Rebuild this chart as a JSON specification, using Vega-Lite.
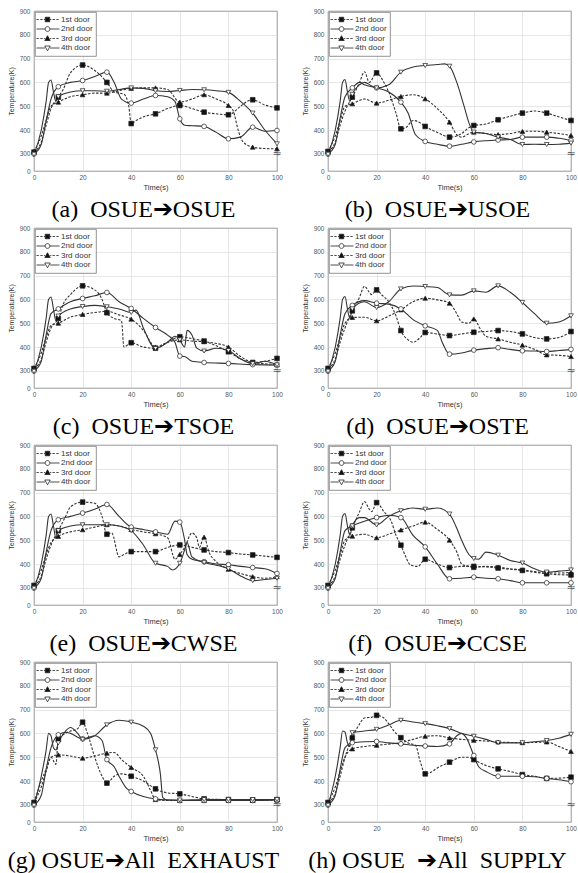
{
"$schema":"https://vega.github.io/schema/vega-lite/v6.json",
"background":"white",
"padding":{"left":6,"top":7,"right":0,"bottom":0},
"data":{"values":[
{"p":"a","d":"1st door","t":0,"T":307},{"p":"a","d":"1st door","t":3,"T":350},{"p":"a","d":"1st door","t":5,"T":420},{"p":"a","d":"1st door","t":7,"T":490},{"p":"a","d":"1st door","t":10,"T":538},{"p":"a","d":"1st door","t":12,"T":570},{"p":"a","d":"1st door","t":15,"T":640},{"p":"a","d":"1st door","t":20,"T":673},{"p":"a","d":"1st door","t":25,"T":650},{"p":"a","d":"1st door","t":30,"T":600},{"p":"a","d":"1st door","t":33,"T":560},{"p":"a","d":"1st door","t":37,"T":550},{"p":"a","d":"1st door","t":39,"T":500},{"p":"a","d":"1st door","t":40,"T":427},{"p":"a","d":"1st door","t":42,"T":440},{"p":"a","d":"1st door","t":45,"T":455},{"p":"a","d":"1st door","t":50,"T":468},{"p":"a","d":"1st door","t":55,"T":490},{"p":"a","d":"1st door","t":60,"T":503},{"p":"a","d":"1st door","t":65,"T":490},{"p":"a","d":"1st door","t":70,"T":475},{"p":"a","d":"1st door","t":75,"T":468},{"p":"a","d":"1st door","t":80,"T":464},{"p":"a","d":"1st door","t":85,"T":500},{"p":"a","d":"1st door","t":88,"T":522},{"p":"a","d":"1st door","t":90,"T":527},{"p":"a","d":"1st door","t":95,"T":505},{"p":"a","d":"1st door","t":100,"T":493},
{"p":"a","d":"2nd door","t":0,"T":296},{"p":"a","d":"2nd door","t":3,"T":340},{"p":"a","d":"2nd door","t":5,"T":440},{"p":"a","d":"2nd door","t":7,"T":530},{"p":"a","d":"2nd door","t":10,"T":582},{"p":"a","d":"2nd door","t":15,"T":600},{"p":"a","d":"2nd door","t":20,"T":608},{"p":"a","d":"2nd door","t":25,"T":625},{"p":"a","d":"2nd door","t":30,"T":643},{"p":"a","d":"2nd door","t":33,"T":600},{"p":"a","d":"2nd door","t":36,"T":530},{"p":"a","d":"2nd door","t":40,"T":513},{"p":"a","d":"2nd door","t":45,"T":530},{"p":"a","d":"2nd door","t":50,"T":545},{"p":"a","d":"2nd door","t":55,"T":540},{"p":"a","d":"2nd door","t":58,"T":520},{"p":"a","d":"2nd door","t":60,"T":447},{"p":"a","d":"2nd door","t":62,"T":420},{"p":"a","d":"2nd door","t":65,"T":418},{"p":"a","d":"2nd door","t":70,"T":415},{"p":"a","d":"2nd door","t":75,"T":390},{"p":"a","d":"2nd door","t":80,"T":363},{"p":"a","d":"2nd door","t":85,"T":370},{"p":"a","d":"2nd door","t":90,"T":412},{"p":"a","d":"2nd door","t":95,"T":395},{"p":"a","d":"2nd door","t":100,"T":398},
{"p":"a","d":"3rd door","t":0,"T":310},{"p":"a","d":"3rd door","t":3,"T":375},{"p":"a","d":"3rd door","t":5,"T":440},{"p":"a","d":"3rd door","t":7,"T":500},{"p":"a","d":"3rd door","t":10,"T":517},{"p":"a","d":"3rd door","t":15,"T":540},{"p":"a","d":"3rd door","t":20,"T":548},{"p":"a","d":"3rd door","t":25,"T":555},{"p":"a","d":"3rd door","t":30,"T":555},{"p":"a","d":"3rd door","t":35,"T":565},{"p":"a","d":"3rd door","t":40,"T":575},{"p":"a","d":"3rd door","t":45,"T":577},{"p":"a","d":"3rd door","t":50,"T":577},{"p":"a","d":"3rd door","t":55,"T":570},{"p":"a","d":"3rd door","t":60,"T":517},{"p":"a","d":"3rd door","t":65,"T":530},{"p":"a","d":"3rd door","t":70,"T":548},{"p":"a","d":"3rd door","t":75,"T":530},{"p":"a","d":"3rd door","t":80,"T":503},{"p":"a","d":"3rd door","t":82,"T":480},{"p":"a","d":"3rd door","t":84,"T":400},{"p":"a","d":"3rd door","t":86,"T":350},{"p":"a","d":"3rd door","t":90,"T":328},{"p":"a","d":"3rd door","t":95,"T":322},{"p":"a","d":"3rd door","t":100,"T":321},
{"p":"a","d":"4th door","t":0,"T":290},{"p":"a","d":"4th door","t":3,"T":400},{"p":"a","d":"4th door","t":5,"T":520},{"p":"a","d":"4th door","t":6,"T":600},{"p":"a","d":"4th door","t":7,"T":610},{"p":"a","d":"4th door","t":8,"T":560},{"p":"a","d":"4th door","t":9,"T":520},{"p":"a","d":"4th door","t":10,"T":540},{"p":"a","d":"4th door","t":15,"T":560},{"p":"a","d":"4th door","t":20,"T":565},{"p":"a","d":"4th door","t":25,"T":565},{"p":"a","d":"4th door","t":30,"T":563},{"p":"a","d":"4th door","t":35,"T":570},{"p":"a","d":"4th door","t":40,"T":577},{"p":"a","d":"4th door","t":45,"T":575},{"p":"a","d":"4th door","t":50,"T":565},{"p":"a","d":"4th door","t":55,"T":562},{"p":"a","d":"4th door","t":60,"T":566},{"p":"a","d":"4th door","t":65,"T":570},{"p":"a","d":"4th door","t":70,"T":569},{"p":"a","d":"4th door","t":75,"T":565},{"p":"a","d":"4th door","t":80,"T":558},{"p":"a","d":"4th door","t":85,"T":520},{"p":"a","d":"4th door","t":90,"T":471},{"p":"a","d":"4th door","t":95,"T":400},{"p":"a","d":"4th door","t":100,"T":342},
{"p":"b","d":"1st door","t":0,"T":310},{"p":"b","d":"1st door","t":3,"T":350},{"p":"b","d":"1st door","t":5,"T":420},{"p":"b","d":"1st door","t":7,"T":480},{"p":"b","d":"1st door","t":10,"T":538},{"p":"b","d":"1st door","t":13,"T":600},{"p":"b","d":"1st door","t":15,"T":645},{"p":"b","d":"1st door","t":17,"T":600},{"p":"b","d":"1st door","t":20,"T":640},{"p":"b","d":"1st door","t":23,"T":600},{"p":"b","d":"1st door","t":25,"T":560},{"p":"b","d":"1st door","t":28,"T":470},{"p":"b","d":"1st door","t":30,"T":405},{"p":"b","d":"1st door","t":32,"T":410},{"p":"b","d":"1st door","t":35,"T":440},{"p":"b","d":"1st door","t":38,"T":430},{"p":"b","d":"1st door","t":40,"T":415},{"p":"b","d":"1st door","t":45,"T":390},{"p":"b","d":"1st door","t":50,"T":370},{"p":"b","d":"1st door","t":55,"T":385},{"p":"b","d":"1st door","t":58,"T":410},{"p":"b","d":"1st door","t":60,"T":419},{"p":"b","d":"1st door","t":65,"T":425},{"p":"b","d":"1st door","t":70,"T":443},{"p":"b","d":"1st door","t":75,"T":458},{"p":"b","d":"1st door","t":80,"T":471},{"p":"b","d":"1st door","t":85,"T":480},{"p":"b","d":"1st door","t":90,"T":471},{"p":"b","d":"1st door","t":95,"T":455},{"p":"b","d":"1st door","t":100,"T":440},
{"p":"b","d":"2nd door","t":0,"T":295},{"p":"b","d":"2nd door","t":3,"T":340},{"p":"b","d":"2nd door","t":5,"T":450},{"p":"b","d":"2nd door","t":7,"T":540},{"p":"b","d":"2nd door","t":10,"T":577},{"p":"b","d":"2nd door","t":13,"T":600},{"p":"b","d":"2nd door","t":15,"T":590},{"p":"b","d":"2nd door","t":20,"T":577},{"p":"b","d":"2nd door","t":25,"T":560},{"p":"b","d":"2nd door","t":30,"T":517},{"p":"b","d":"2nd door","t":33,"T":470},{"p":"b","d":"2nd door","t":36,"T":380},{"p":"b","d":"2nd door","t":40,"T":352},{"p":"b","d":"2nd door","t":45,"T":340},{"p":"b","d":"2nd door","t":50,"T":332},{"p":"b","d":"2nd door","t":55,"T":340},{"p":"b","d":"2nd door","t":60,"T":350},{"p":"b","d":"2nd door","t":65,"T":355},{"p":"b","d":"2nd door","t":70,"T":358},{"p":"b","d":"2nd door","t":75,"T":360},{"p":"b","d":"2nd door","t":80,"T":370},{"p":"b","d":"2nd door","t":85,"T":370},{"p":"b","d":"2nd door","t":90,"T":370},{"p":"b","d":"2nd door","t":95,"T":365},{"p":"b","d":"2nd door","t":100,"T":356},
{"p":"b","d":"3rd door","t":0,"T":310},{"p":"b","d":"3rd door","t":3,"T":375},{"p":"b","d":"3rd door","t":5,"T":440},{"p":"b","d":"3rd door","t":7,"T":500},{"p":"b","d":"3rd door","t":10,"T":510},{"p":"b","d":"3rd door","t":15,"T":530},{"p":"b","d":"3rd door","t":20,"T":513},{"p":"b","d":"3rd door","t":25,"T":525},{"p":"b","d":"3rd door","t":30,"T":541},{"p":"b","d":"3rd door","t":35,"T":548},{"p":"b","d":"3rd door","t":40,"T":531},{"p":"b","d":"3rd door","t":45,"T":490},{"p":"b","d":"3rd door","t":50,"T":433},{"p":"b","d":"3rd door","t":53,"T":380},{"p":"b","d":"3rd door","t":55,"T":370},{"p":"b","d":"3rd door","t":58,"T":385},{"p":"b","d":"3rd door","t":60,"T":391},{"p":"b","d":"3rd door","t":65,"T":385},{"p":"b","d":"3rd door","t":70,"T":381},{"p":"b","d":"3rd door","t":75,"T":385},{"p":"b","d":"3rd door","t":80,"T":394},{"p":"b","d":"3rd door","t":85,"T":395},{"p":"b","d":"3rd door","t":90,"T":391},{"p":"b","d":"3rd door","t":95,"T":385},{"p":"b","d":"3rd door","t":100,"T":377},
{"p":"b","d":"4th door","t":0,"T":290},{"p":"b","d":"4th door","t":3,"T":400},{"p":"b","d":"4th door","t":5,"T":520},{"p":"b","d":"4th door","t":6,"T":600},{"p":"b","d":"4th door","t":7,"T":612},{"p":"b","d":"4th door","t":8,"T":560},{"p":"b","d":"4th door","t":9,"T":520},{"p":"b","d":"4th door","t":10,"T":550},{"p":"b","d":"4th door","t":13,"T":590},{"p":"b","d":"4th door","t":15,"T":600},{"p":"b","d":"4th door","t":18,"T":585},{"p":"b","d":"4th door","t":20,"T":577},{"p":"b","d":"4th door","t":25,"T":590},{"p":"b","d":"4th door","t":30,"T":643},{"p":"b","d":"4th door","t":35,"T":665},{"p":"b","d":"4th door","t":40,"T":671},{"p":"b","d":"4th door","t":45,"T":675},{"p":"b","d":"4th door","t":48,"T":678},{"p":"b","d":"4th door","t":50,"T":668},{"p":"b","d":"4th door","t":53,"T":600},{"p":"b","d":"4th door","t":56,"T":500},{"p":"b","d":"4th door","t":58,"T":430},{"p":"b","d":"4th door","t":60,"T":391},{"p":"b","d":"4th door","t":65,"T":385},{"p":"b","d":"4th door","t":70,"T":370},{"p":"b","d":"4th door","t":75,"T":360},{"p":"b","d":"4th door","t":80,"T":339},{"p":"b","d":"4th door","t":85,"T":340},{"p":"b","d":"4th door","t":90,"T":339},{"p":"b","d":"4th door","t":95,"T":340},{"p":"b","d":"4th door","t":100,"T":345},
{"p":"c","d":"1st door","t":0,"T":310},{"p":"c","d":"1st door","t":3,"T":350},{"p":"c","d":"1st door","t":5,"T":420},{"p":"c","d":"1st door","t":7,"T":480},{"p":"c","d":"1st door","t":10,"T":520},{"p":"c","d":"1st door","t":12,"T":580},{"p":"c","d":"1st door","t":15,"T":620},{"p":"c","d":"1st door","t":20,"T":657},{"p":"c","d":"1st door","t":25,"T":640},{"p":"c","d":"1st door","t":28,"T":600},{"p":"c","d":"1st door","t":30,"T":544},{"p":"c","d":"1st door","t":33,"T":520},{"p":"c","d":"1st door","t":36,"T":510},{"p":"c","d":"1st door","t":37,"T":400},{"p":"c","d":"1st door","t":40,"T":418},{"p":"c","d":"1st door","t":45,"T":400},{"p":"c","d":"1st door","t":50,"T":395},{"p":"c","d":"1st door","t":55,"T":420},{"p":"c","d":"1st door","t":60,"T":443},{"p":"c","d":"1st door","t":65,"T":435},{"p":"c","d":"1st door","t":70,"T":425},{"p":"c","d":"1st door","t":75,"T":405},{"p":"c","d":"1st door","t":80,"T":380},{"p":"c","d":"1st door","t":85,"T":350},{"p":"c","d":"1st door","t":90,"T":335},{"p":"c","d":"1st door","t":95,"T":340},{"p":"c","d":"1st door","t":100,"T":352},
{"p":"c","d":"2nd door","t":0,"T":295},{"p":"c","d":"2nd door","t":3,"T":340},{"p":"c","d":"2nd door","t":5,"T":450},{"p":"c","d":"2nd door","t":7,"T":540},{"p":"c","d":"2nd door","t":10,"T":560},{"p":"c","d":"2nd door","t":15,"T":590},{"p":"c","d":"2nd door","t":20,"T":604},{"p":"c","d":"2nd door","t":25,"T":615},{"p":"c","d":"2nd door","t":30,"T":629},{"p":"c","d":"2nd door","t":35,"T":590},{"p":"c","d":"2nd door","t":40,"T":562},{"p":"c","d":"2nd door","t":45,"T":520},{"p":"c","d":"2nd door","t":50,"T":482},{"p":"c","d":"2nd door","t":55,"T":450},{"p":"c","d":"2nd door","t":58,"T":420},{"p":"c","d":"2nd door","t":60,"T":362},{"p":"c","d":"2nd door","t":62,"T":360},{"p":"c","d":"2nd door","t":65,"T":340},{"p":"c","d":"2nd door","t":70,"T":335},{"p":"c","d":"2nd door","t":80,"T":331},{"p":"c","d":"2nd door","t":90,"T":326},{"p":"c","d":"2nd door","t":100,"T":324},
{"p":"c","d":"3rd door","t":0,"T":310},{"p":"c","d":"3rd door","t":3,"T":375},{"p":"c","d":"3rd door","t":5,"T":440},{"p":"c","d":"3rd door","t":7,"T":490},{"p":"c","d":"3rd door","t":10,"T":500},{"p":"c","d":"3rd door","t":15,"T":525},{"p":"c","d":"3rd door","t":20,"T":537},{"p":"c","d":"3rd door","t":25,"T":545},{"p":"c","d":"3rd door","t":30,"T":550},{"p":"c","d":"3rd door","t":35,"T":535},{"p":"c","d":"3rd door","t":40,"T":517},{"p":"c","d":"3rd door","t":45,"T":470},{"p":"c","d":"3rd door","t":50,"T":400},{"p":"c","d":"3rd door","t":55,"T":420},{"p":"c","d":"3rd door","t":60,"T":430},{"p":"c","d":"3rd door","t":65,"T":425},{"p":"c","d":"3rd door","t":70,"T":422},{"p":"c","d":"3rd door","t":75,"T":415},{"p":"c","d":"3rd door","t":80,"T":400},{"p":"c","d":"3rd door","t":85,"T":360},{"p":"c","d":"3rd door","t":90,"T":335},{"p":"c","d":"3rd door","t":95,"T":330},{"p":"c","d":"3rd door","t":100,"T":325},
{"p":"c","d":"4th door","t":0,"T":290},{"p":"c","d":"4th door","t":3,"T":400},{"p":"c","d":"4th door","t":5,"T":520},{"p":"c","d":"4th door","t":6,"T":600},{"p":"c","d":"4th door","t":7,"T":610},{"p":"c","d":"4th door","t":8,"T":560},{"p":"c","d":"4th door","t":9,"T":510},{"p":"c","d":"4th door","t":10,"T":530},{"p":"c","d":"4th door","t":15,"T":560},{"p":"c","d":"4th door","t":20,"T":570},{"p":"c","d":"4th door","t":25,"T":575},{"p":"c","d":"4th door","t":30,"T":569},{"p":"c","d":"4th door","t":35,"T":560},{"p":"c","d":"4th door","t":40,"T":545},{"p":"c","d":"4th door","t":42,"T":555},{"p":"c","d":"4th door","t":45,"T":480},{"p":"c","d":"4th door","t":50,"T":394},{"p":"c","d":"4th door","t":55,"T":420},{"p":"c","d":"4th door","t":58,"T":445},{"p":"c","d":"4th door","t":60,"T":430},{"p":"c","d":"4th door","t":62,"T":400},{"p":"c","d":"4th door","t":63,"T":470},{"p":"c","d":"4th door","t":65,"T":450},{"p":"c","d":"4th door","t":67,"T":395},{"p":"c","d":"4th door","t":70,"T":383},{"p":"c","d":"4th door","t":75,"T":395},{"p":"c","d":"4th door","t":80,"T":385},{"p":"c","d":"4th door","t":85,"T":350},{"p":"c","d":"4th door","t":90,"T":330},{"p":"c","d":"4th door","t":95,"T":340},{"p":"c","d":"4th door","t":100,"T":325},
{"p":"d","d":"1st door","t":0,"T":310},{"p":"d","d":"1st door","t":3,"T":350},{"p":"d","d":"1st door","t":5,"T":420},{"p":"d","d":"1st door","t":7,"T":480},{"p":"d","d":"1st door","t":10,"T":552},{"p":"d","d":"1st door","t":13,"T":610},{"p":"d","d":"1st door","t":15,"T":655},{"p":"d","d":"1st door","t":17,"T":630},{"p":"d","d":"1st door","t":18,"T":620},{"p":"d","d":"1st door","t":20,"T":640},{"p":"d","d":"1st door","t":22,"T":620},{"p":"d","d":"1st door","t":25,"T":590},{"p":"d","d":"1st door","t":28,"T":530},{"p":"d","d":"1st door","t":30,"T":469},{"p":"d","d":"1st door","t":33,"T":430},{"p":"d","d":"1st door","t":35,"T":420},{"p":"d","d":"1st door","t":38,"T":440},{"p":"d","d":"1st door","t":40,"T":461},{"p":"d","d":"1st door","t":45,"T":455},{"p":"d","d":"1st door","t":50,"T":448},{"p":"d","d":"1st door","t":55,"T":455},{"p":"d","d":"1st door","t":60,"T":462},{"p":"d","d":"1st door","t":65,"T":465},{"p":"d","d":"1st door","t":70,"T":469},{"p":"d","d":"1st door","t":75,"T":465},{"p":"d","d":"1st door","t":80,"T":455},{"p":"d","d":"1st door","t":85,"T":440},{"p":"d","d":"1st door","t":90,"T":434},{"p":"d","d":"1st door","t":95,"T":440},{"p":"d","d":"1st door","t":100,"T":465},
{"p":"d","d":"2nd door","t":0,"T":295},{"p":"d","d":"2nd door","t":3,"T":340},{"p":"d","d":"2nd door","t":5,"T":450},{"p":"d","d":"2nd door","t":7,"T":540},{"p":"d","d":"2nd door","t":10,"T":575},{"p":"d","d":"2nd door","t":15,"T":595},{"p":"d","d":"2nd door","t":20,"T":584},{"p":"d","d":"2nd door","t":25,"T":580},{"p":"d","d":"2nd door","t":30,"T":560},{"p":"d","d":"2nd door","t":35,"T":515},{"p":"d","d":"2nd door","t":40,"T":489},{"p":"d","d":"2nd door","t":45,"T":470},{"p":"d","d":"2nd door","t":47,"T":420},{"p":"d","d":"2nd door","t":50,"T":370},{"p":"d","d":"2nd door","t":55,"T":375},{"p":"d","d":"2nd door","t":60,"T":387},{"p":"d","d":"2nd door","t":65,"T":393},{"p":"d","d":"2nd door","t":70,"T":397},{"p":"d","d":"2nd door","t":75,"T":390},{"p":"d","d":"2nd door","t":80,"T":384},{"p":"d","d":"2nd door","t":85,"T":383},{"p":"d","d":"2nd door","t":90,"T":381},{"p":"d","d":"2nd door","t":95,"T":385},{"p":"d","d":"2nd door","t":100,"T":390},
{"p":"d","d":"3rd door","t":0,"T":310},{"p":"d","d":"3rd door","t":3,"T":375},{"p":"d","d":"3rd door","t":5,"T":440},{"p":"d","d":"3rd door","t":7,"T":500},{"p":"d","d":"3rd door","t":10,"T":524},{"p":"d","d":"3rd door","t":15,"T":525},{"p":"d","d":"3rd door","t":20,"T":510},{"p":"d","d":"3rd door","t":25,"T":530},{"p":"d","d":"3rd door","t":30,"T":556},{"p":"d","d":"3rd door","t":35,"T":590},{"p":"d","d":"3rd door","t":40,"T":605},{"p":"d","d":"3rd door","t":45,"T":598},{"p":"d","d":"3rd door","t":50,"T":584},{"p":"d","d":"3rd door","t":53,"T":540},{"p":"d","d":"3rd door","t":55,"T":505},{"p":"d","d":"3rd door","t":58,"T":500},{"p":"d","d":"3rd door","t":60,"T":518},{"p":"d","d":"3rd door","t":63,"T":470},{"p":"d","d":"3rd door","t":65,"T":445},{"p":"d","d":"3rd door","t":70,"T":434},{"p":"d","d":"3rd door","t":75,"T":420},{"p":"d","d":"3rd door","t":80,"T":408},{"p":"d","d":"3rd door","t":85,"T":390},{"p":"d","d":"3rd door","t":90,"T":367},{"p":"d","d":"3rd door","t":95,"T":365},{"p":"d","d":"3rd door","t":100,"T":360},
{"p":"d","d":"4th door","t":0,"T":290},{"p":"d","d":"4th door","t":3,"T":400},{"p":"d","d":"4th door","t":5,"T":520},{"p":"d","d":"4th door","t":6,"T":600},{"p":"d","d":"4th door","t":7,"T":612},{"p":"d","d":"4th door","t":8,"T":560},{"p":"d","d":"4th door","t":9,"T":520},{"p":"d","d":"4th door","t":10,"T":560},{"p":"d","d":"4th door","t":15,"T":590},{"p":"d","d":"4th door","t":20,"T":566},{"p":"d","d":"4th door","t":25,"T":590},{"p":"d","d":"4th door","t":30,"T":644},{"p":"d","d":"4th door","t":35,"T":656},{"p":"d","d":"4th door","t":40,"T":654},{"p":"d","d":"4th door","t":45,"T":650},{"p":"d","d":"4th door","t":50,"T":619},{"p":"d","d":"4th door","t":55,"T":618},{"p":"d","d":"4th door","t":60,"T":636},{"p":"d","d":"4th door","t":65,"T":630},{"p":"d","d":"4th door","t":70,"T":657},{"p":"d","d":"4th door","t":75,"T":630},{"p":"d","d":"4th door","t":80,"T":587},{"p":"d","d":"4th door","t":85,"T":540},{"p":"d","d":"4th door","t":90,"T":500},{"p":"d","d":"4th door","t":95,"T":505},{"p":"d","d":"4th door","t":100,"T":531},
{"p":"e","d":"1st door","t":0,"T":310},{"p":"e","d":"1st door","t":3,"T":350},{"p":"e","d":"1st door","t":5,"T":420},{"p":"e","d":"1st door","t":7,"T":480},{"p":"e","d":"1st door","t":10,"T":540},{"p":"e","d":"1st door","t":13,"T":600},{"p":"e","d":"1st door","t":15,"T":640},{"p":"e","d":"1st door","t":20,"T":660},{"p":"e","d":"1st door","t":25,"T":655},{"p":"e","d":"1st door","t":28,"T":600},{"p":"e","d":"1st door","t":30,"T":525},{"p":"e","d":"1st door","t":32,"T":530},{"p":"e","d":"1st door","t":35,"T":430},{"p":"e","d":"1st door","t":37,"T":440},{"p":"e","d":"1st door","t":40,"T":452},{"p":"e","d":"1st door","t":45,"T":452},{"p":"e","d":"1st door","t":50,"T":452},{"p":"e","d":"1st door","t":55,"T":470},{"p":"e","d":"1st door","t":60,"T":480},{"p":"e","d":"1st door","t":65,"T":470},{"p":"e","d":"1st door","t":70,"T":459},{"p":"e","d":"1st door","t":75,"T":452},{"p":"e","d":"1st door","t":80,"T":448},{"p":"e","d":"1st door","t":85,"T":442},{"p":"e","d":"1st door","t":90,"T":438},{"p":"e","d":"1st door","t":95,"T":433},{"p":"e","d":"1st door","t":100,"T":428},
{"p":"e","d":"2nd door","t":0,"T":295},{"p":"e","d":"2nd door","t":3,"T":340},{"p":"e","d":"2nd door","t":5,"T":450},{"p":"e","d":"2nd door","t":7,"T":540},{"p":"e","d":"2nd door","t":10,"T":586},{"p":"e","d":"2nd door","t":15,"T":600},{"p":"e","d":"2nd door","t":20,"T":614},{"p":"e","d":"2nd door","t":25,"T":630},{"p":"e","d":"2nd door","t":30,"T":650},{"p":"e","d":"2nd door","t":35,"T":600},{"p":"e","d":"2nd door","t":40,"T":555},{"p":"e","d":"2nd door","t":45,"T":545},{"p":"e","d":"2nd door","t":50,"T":535},{"p":"e","d":"2nd door","t":55,"T":525},{"p":"e","d":"2nd door","t":58,"T":580},{"p":"e","d":"2nd door","t":60,"T":576},{"p":"e","d":"2nd door","t":62,"T":500},{"p":"e","d":"2nd door","t":63,"T":440},{"p":"e","d":"2nd door","t":65,"T":420},{"p":"e","d":"2nd door","t":70,"T":410},{"p":"e","d":"2nd door","t":75,"T":400},{"p":"e","d":"2nd door","t":80,"T":397},{"p":"e","d":"2nd door","t":85,"T":390},{"p":"e","d":"2nd door","t":90,"T":385},{"p":"e","d":"2nd door","t":95,"T":380},{"p":"e","d":"2nd door","t":100,"T":360},
{"p":"e","d":"3rd door","t":0,"T":310},{"p":"e","d":"3rd door","t":3,"T":375},{"p":"e","d":"3rd door","t":5,"T":440},{"p":"e","d":"3rd door","t":7,"T":490},{"p":"e","d":"3rd door","t":10,"T":516},{"p":"e","d":"3rd door","t":15,"T":535},{"p":"e","d":"3rd door","t":20,"T":544},{"p":"e","d":"3rd door","t":25,"T":555},{"p":"e","d":"3rd door","t":30,"T":565},{"p":"e","d":"3rd door","t":35,"T":560},{"p":"e","d":"3rd door","t":40,"T":545},{"p":"e","d":"3rd door","t":45,"T":535},{"p":"e","d":"3rd door","t":50,"T":527},{"p":"e","d":"3rd door","t":55,"T":510},{"p":"e","d":"3rd door","t":58,"T":420},{"p":"e","d":"3rd door","t":60,"T":440},{"p":"e","d":"3rd door","t":62,"T":470},{"p":"e","d":"3rd door","t":65,"T":530},{"p":"e","d":"3rd door","t":67,"T":510},{"p":"e","d":"3rd door","t":68,"T":470},{"p":"e","d":"3rd door","t":70,"T":513},{"p":"e","d":"3rd door","t":72,"T":450},{"p":"e","d":"3rd door","t":75,"T":410},{"p":"e","d":"3rd door","t":80,"T":378},{"p":"e","d":"3rd door","t":85,"T":360},{"p":"e","d":"3rd door","t":90,"T":347},{"p":"e","d":"3rd door","t":95,"T":340},{"p":"e","d":"3rd door","t":100,"T":347},
{"p":"e","d":"4th door","t":0,"T":290},{"p":"e","d":"4th door","t":3,"T":400},{"p":"e","d":"4th door","t":5,"T":520},{"p":"e","d":"4th door","t":6,"T":600},{"p":"e","d":"4th door","t":7,"T":610},{"p":"e","d":"4th door","t":8,"T":560},{"p":"e","d":"4th door","t":9,"T":510},{"p":"e","d":"4th door","t":10,"T":540},{"p":"e","d":"4th door","t":15,"T":560},{"p":"e","d":"4th door","t":20,"T":565},{"p":"e","d":"4th door","t":25,"T":565},{"p":"e","d":"4th door","t":30,"T":565},{"p":"e","d":"4th door","t":35,"T":560},{"p":"e","d":"4th door","t":40,"T":540},{"p":"e","d":"4th door","t":45,"T":480},{"p":"e","d":"4th door","t":50,"T":403},{"p":"e","d":"4th door","t":55,"T":390},{"p":"e","d":"4th door","t":57,"T":375},{"p":"e","d":"4th door","t":60,"T":403},{"p":"e","d":"4th door","t":62,"T":460},{"p":"e","d":"4th door","t":63,"T":490},{"p":"e","d":"4th door","t":65,"T":430},{"p":"e","d":"4th door","t":70,"T":406},{"p":"e","d":"4th door","t":75,"T":395},{"p":"e","d":"4th door","t":80,"T":380},{"p":"e","d":"4th door","t":85,"T":350},{"p":"e","d":"4th door","t":90,"T":330},{"p":"e","d":"4th door","t":95,"T":335},{"p":"e","d":"4th door","t":100,"T":340},
{"p":"f","d":"1st door","t":0,"T":310},{"p":"f","d":"1st door","t":3,"T":350},{"p":"f","d":"1st door","t":5,"T":420},{"p":"f","d":"1st door","t":7,"T":480},{"p":"f","d":"1st door","t":10,"T":552},{"p":"f","d":"1st door","t":13,"T":620},{"p":"f","d":"1st door","t":15,"T":662},{"p":"f","d":"1st door","t":17,"T":630},{"p":"f","d":"1st door","t":18,"T":620},{"p":"f","d":"1st door","t":20,"T":658},{"p":"f","d":"1st door","t":23,"T":620},{"p":"f","d":"1st door","t":26,"T":580},{"p":"f","d":"1st door","t":28,"T":520},{"p":"f","d":"1st door","t":30,"T":479},{"p":"f","d":"1st door","t":32,"T":430},{"p":"f","d":"1st door","t":34,"T":395},{"p":"f","d":"1st door","t":37,"T":390},{"p":"f","d":"1st door","t":40,"T":420},{"p":"f","d":"1st door","t":45,"T":400},{"p":"f","d":"1st door","t":50,"T":385},{"p":"f","d":"1st door","t":55,"T":390},{"p":"f","d":"1st door","t":60,"T":390},{"p":"f","d":"1st door","t":65,"T":388},{"p":"f","d":"1st door","t":70,"T":383},{"p":"f","d":"1st door","t":75,"T":378},{"p":"f","d":"1st door","t":80,"T":373},{"p":"f","d":"1st door","t":85,"T":365},{"p":"f","d":"1st door","t":90,"T":359},{"p":"f","d":"1st door","t":95,"T":355},{"p":"f","d":"1st door","t":100,"T":354},
{"p":"f","d":"2nd door","t":0,"T":295},{"p":"f","d":"2nd door","t":3,"T":340},{"p":"f","d":"2nd door","t":5,"T":450},{"p":"f","d":"2nd door","t":7,"T":540},{"p":"f","d":"2nd door","t":10,"T":560},{"p":"f","d":"2nd door","t":15,"T":580},{"p":"f","d":"2nd door","t":20,"T":595},{"p":"f","d":"2nd door","t":25,"T":605},{"p":"f","d":"2nd door","t":30,"T":595},{"p":"f","d":"2nd door","t":35,"T":520},{"p":"f","d":"2nd door","t":40,"T":472},{"p":"f","d":"2nd door","t":45,"T":400},{"p":"f","d":"2nd door","t":50,"T":338},{"p":"f","d":"2nd door","t":55,"T":340},{"p":"f","d":"2nd door","t":60,"T":345},{"p":"f","d":"2nd door","t":65,"T":340},{"p":"f","d":"2nd door","t":70,"T":338},{"p":"f","d":"2nd door","t":75,"T":330},{"p":"f","d":"2nd door","t":80,"T":321},{"p":"f","d":"2nd door","t":90,"T":321},{"p":"f","d":"2nd door","t":100,"T":321},
{"p":"f","d":"3rd door","t":0,"T":310},{"p":"f","d":"3rd door","t":3,"T":375},{"p":"f","d":"3rd door","t":5,"T":440},{"p":"f","d":"3rd door","t":7,"T":500},{"p":"f","d":"3rd door","t":10,"T":517},{"p":"f","d":"3rd door","t":15,"T":525},{"p":"f","d":"3rd door","t":20,"T":510},{"p":"f","d":"3rd door","t":25,"T":525},{"p":"f","d":"3rd door","t":30,"T":543},{"p":"f","d":"3rd door","t":35,"T":560},{"p":"f","d":"3rd door","t":40,"T":576},{"p":"f","d":"3rd door","t":45,"T":545},{"p":"f","d":"3rd door","t":50,"T":500},{"p":"f","d":"3rd door","t":53,"T":450},{"p":"f","d":"3rd door","t":55,"T":400},{"p":"f","d":"3rd door","t":58,"T":390},{"p":"f","d":"3rd door","t":60,"T":385},{"p":"f","d":"3rd door","t":65,"T":390},{"p":"f","d":"3rd door","t":70,"T":387},{"p":"f","d":"3rd door","t":75,"T":380},{"p":"f","d":"3rd door","t":80,"T":375},{"p":"f","d":"3rd door","t":85,"T":368},{"p":"f","d":"3rd door","t":90,"T":362},{"p":"f","d":"3rd door","t":95,"T":362},{"p":"f","d":"3rd door","t":100,"T":365},
{"p":"f","d":"4th door","t":0,"T":290},{"p":"f","d":"4th door","t":3,"T":400},{"p":"f","d":"4th door","t":5,"T":520},{"p":"f","d":"4th door","t":6,"T":600},{"p":"f","d":"4th door","t":7,"T":612},{"p":"f","d":"4th door","t":8,"T":560},{"p":"f","d":"4th door","t":9,"T":520},{"p":"f","d":"4th door","t":10,"T":560},{"p":"f","d":"4th door","t":13,"T":595},{"p":"f","d":"4th door","t":15,"T":595},{"p":"f","d":"4th door","t":20,"T":564},{"p":"f","d":"4th door","t":25,"T":600},{"p":"f","d":"4th door","t":30,"T":624},{"p":"f","d":"4th door","t":35,"T":635},{"p":"f","d":"4th door","t":40,"T":630},{"p":"f","d":"4th door","t":45,"T":635},{"p":"f","d":"4th door","t":50,"T":610},{"p":"f","d":"4th door","t":53,"T":550},{"p":"f","d":"4th door","t":55,"T":500},{"p":"f","d":"4th door","t":58,"T":440},{"p":"f","d":"4th door","t":60,"T":423},{"p":"f","d":"4th door","t":62,"T":420},{"p":"f","d":"4th door","t":65,"T":450},{"p":"f","d":"4th door","t":70,"T":437},{"p":"f","d":"4th door","t":75,"T":415},{"p":"f","d":"4th door","t":80,"T":404},{"p":"f","d":"4th door","t":85,"T":380},{"p":"f","d":"4th door","t":90,"T":366},{"p":"f","d":"4th door","t":95,"T":370},{"p":"f","d":"4th door","t":100,"T":375},
{"p":"g","d":"1st door","t":0,"T":310},{"p":"g","d":"1st door","t":3,"T":400},{"p":"g","d":"1st door","t":5,"T":450},{"p":"g","d":"1st door","t":7,"T":500},{"p":"g","d":"1st door","t":9,"T":470},{"p":"g","d":"1st door","t":10,"T":574},{"p":"g","d":"1st door","t":13,"T":600},{"p":"g","d":"1st door","t":15,"T":610},{"p":"g","d":"1st door","t":18,"T":620},{"p":"g","d":"1st door","t":20,"T":647},{"p":"g","d":"1st door","t":22,"T":600},{"p":"g","d":"1st door","t":25,"T":500},{"p":"g","d":"1st door","t":28,"T":420},{"p":"g","d":"1st door","t":30,"T":391},{"p":"g","d":"1st door","t":33,"T":420},{"p":"g","d":"1st door","t":36,"T":430},{"p":"g","d":"1st door","t":40,"T":420},{"p":"g","d":"1st door","t":45,"T":400},{"p":"g","d":"1st door","t":50,"T":367},{"p":"g","d":"1st door","t":55,"T":350},{"p":"g","d":"1st door","t":60,"T":346},{"p":"g","d":"1st door","t":65,"T":335},{"p":"g","d":"1st door","t":70,"T":325},{"p":"g","d":"1st door","t":80,"T":322},{"p":"g","d":"1st door","t":90,"T":320},{"p":"g","d":"1st door","t":100,"T":322},
{"p":"g","d":"2nd door","t":0,"T":295},{"p":"g","d":"2nd door","t":3,"T":340},{"p":"g","d":"2nd door","t":5,"T":450},{"p":"g","d":"2nd door","t":7,"T":540},{"p":"g","d":"2nd door","t":10,"T":594},{"p":"g","d":"2nd door","t":13,"T":605},{"p":"g","d":"2nd door","t":15,"T":600},{"p":"g","d":"2nd door","t":20,"T":577},{"p":"g","d":"2nd door","t":25,"T":590},{"p":"g","d":"2nd door","t":28,"T":570},{"p":"g","d":"2nd door","t":30,"T":490},{"p":"g","d":"2nd door","t":33,"T":460},{"p":"g","d":"2nd door","t":35,"T":420},{"p":"g","d":"2nd door","t":38,"T":370},{"p":"g","d":"2nd door","t":40,"T":356},{"p":"g","d":"2nd door","t":45,"T":335},{"p":"g","d":"2nd door","t":50,"T":325},{"p":"g","d":"2nd door","t":55,"T":320},{"p":"g","d":"2nd door","t":60,"T":318},{"p":"g","d":"2nd door","t":70,"T":318},{"p":"g","d":"2nd door","t":80,"T":318},{"p":"g","d":"2nd door","t":90,"T":318},{"p":"g","d":"2nd door","t":100,"T":320},
{"p":"g","d":"3rd door","t":0,"T":310},{"p":"g","d":"3rd door","t":3,"T":375},{"p":"g","d":"3rd door","t":5,"T":440},{"p":"g","d":"3rd door","t":7,"T":500},{"p":"g","d":"3rd door","t":10,"T":510},{"p":"g","d":"3rd door","t":15,"T":505},{"p":"g","d":"3rd door","t":20,"T":496},{"p":"g","d":"3rd door","t":25,"T":505},{"p":"g","d":"3rd door","t":30,"T":517},{"p":"g","d":"3rd door","t":33,"T":520},{"p":"g","d":"3rd door","t":36,"T":490},{"p":"g","d":"3rd door","t":40,"T":457},{"p":"g","d":"3rd door","t":45,"T":420},{"p":"g","d":"3rd door","t":48,"T":360},{"p":"g","d":"3rd door","t":50,"T":322},{"p":"g","d":"3rd door","t":55,"T":318},{"p":"g","d":"3rd door","t":60,"T":318},{"p":"g","d":"3rd door","t":70,"T":318},{"p":"g","d":"3rd door","t":80,"T":318},{"p":"g","d":"3rd door","t":90,"T":318},{"p":"g","d":"3rd door","t":100,"T":320},
{"p":"g","d":"4th door","t":0,"T":290},{"p":"g","d":"4th door","t":3,"T":420},{"p":"g","d":"4th door","t":5,"T":530},{"p":"g","d":"4th door","t":6,"T":600},{"p":"g","d":"4th door","t":7,"T":590},{"p":"g","d":"4th door","t":8,"T":540},{"p":"g","d":"4th door","t":9,"T":530},{"p":"g","d":"4th door","t":10,"T":560},{"p":"g","d":"4th door","t":13,"T":610},{"p":"g","d":"4th door","t":15,"T":625},{"p":"g","d":"4th door","t":18,"T":600},{"p":"g","d":"4th door","t":20,"T":575},{"p":"g","d":"4th door","t":25,"T":590},{"p":"g","d":"4th door","t":30,"T":636},{"p":"g","d":"4th door","t":35,"T":655},{"p":"g","d":"4th door","t":40,"T":647},{"p":"g","d":"4th door","t":45,"T":630},{"p":"g","d":"4th door","t":48,"T":600},{"p":"g","d":"4th door","t":50,"T":531},{"p":"g","d":"4th door","t":52,"T":430},{"p":"g","d":"4th door","t":53,"T":330},{"p":"g","d":"4th door","t":55,"T":320},{"p":"g","d":"4th door","t":60,"T":320},{"p":"g","d":"4th door","t":70,"T":322},{"p":"g","d":"4th door","t":80,"T":322},{"p":"g","d":"4th door","t":90,"T":322},{"p":"g","d":"4th door","t":100,"T":322},
{"p":"h","d":"1st door","t":0,"T":310},{"p":"h","d":"1st door","t":3,"T":350},{"p":"h","d":"1st door","t":5,"T":420},{"p":"h","d":"1st door","t":7,"T":500},{"p":"h","d":"1st door","t":10,"T":581},{"p":"h","d":"1st door","t":13,"T":640},{"p":"h","d":"1st door","t":15,"T":665},{"p":"h","d":"1st door","t":18,"T":668},{"p":"h","d":"1st door","t":20,"T":676},{"p":"h","d":"1st door","t":23,"T":665},{"p":"h","d":"1st door","t":25,"T":640},{"p":"h","d":"1st door","t":28,"T":600},{"p":"h","d":"1st door","t":30,"T":582},{"p":"h","d":"1st door","t":33,"T":560},{"p":"h","d":"1st door","t":36,"T":550},{"p":"h","d":"1st door","t":38,"T":480},{"p":"h","d":"1st door","t":40,"T":430},{"p":"h","d":"1st door","t":42,"T":435},{"p":"h","d":"1st door","t":45,"T":455},{"p":"h","d":"1st door","t":50,"T":479},{"p":"h","d":"1st door","t":55,"T":500},{"p":"h","d":"1st door","t":58,"T":500},{"p":"h","d":"1st door","t":60,"T":490},{"p":"h","d":"1st door","t":65,"T":465},{"p":"h","d":"1st door","t":70,"T":451},{"p":"h","d":"1st door","t":75,"T":440},{"p":"h","d":"1st door","t":80,"T":427},{"p":"h","d":"1st door","t":85,"T":420},{"p":"h","d":"1st door","t":90,"T":411},{"p":"h","d":"1st door","t":95,"T":412},{"p":"h","d":"1st door","t":100,"T":416},
{"p":"h","d":"2nd door","t":0,"T":295},{"p":"h","d":"2nd door","t":3,"T":340},{"p":"h","d":"2nd door","t":5,"T":450},{"p":"h","d":"2nd door","t":7,"T":540},{"p":"h","d":"2nd door","t":10,"T":561},{"p":"h","d":"2nd door","t":15,"T":565},{"p":"h","d":"2nd door","t":20,"T":566},{"p":"h","d":"2nd door","t":25,"T":560},{"p":"h","d":"2nd door","t":30,"T":556},{"p":"h","d":"2nd door","t":35,"T":550},{"p":"h","d":"2nd door","t":40,"T":547},{"p":"h","d":"2nd door","t":45,"T":545},{"p":"h","d":"2nd door","t":50,"T":556},{"p":"h","d":"2nd door","t":53,"T":590},{"p":"h","d":"2nd door","t":55,"T":600},{"p":"h","d":"2nd door","t":57,"T":580},{"p":"h","d":"2nd door","t":60,"T":507},{"p":"h","d":"2nd door","t":62,"T":460},{"p":"h","d":"2nd door","t":65,"T":440},{"p":"h","d":"2nd door","t":70,"T":420},{"p":"h","d":"2nd door","t":75,"T":420},{"p":"h","d":"2nd door","t":80,"T":420},{"p":"h","d":"2nd door","t":85,"T":418},{"p":"h","d":"2nd door","t":90,"T":411},{"p":"h","d":"2nd door","t":95,"T":405},{"p":"h","d":"2nd door","t":100,"T":397},
{"p":"h","d":"3rd door","t":0,"T":310},{"p":"h","d":"3rd door","t":3,"T":375},{"p":"h","d":"3rd door","t":5,"T":440},{"p":"h","d":"3rd door","t":7,"T":500},{"p":"h","d":"3rd door","t":10,"T":535},{"p":"h","d":"3rd door","t":15,"T":545},{"p":"h","d":"3rd door","t":20,"T":550},{"p":"h","d":"3rd door","t":25,"T":555},{"p":"h","d":"3rd door","t":30,"T":561},{"p":"h","d":"3rd door","t":35,"T":575},{"p":"h","d":"3rd door","t":40,"T":588},{"p":"h","d":"3rd door","t":45,"T":590},{"p":"h","d":"3rd door","t":50,"T":581},{"p":"h","d":"3rd door","t":55,"T":575},{"p":"h","d":"3rd door","t":60,"T":571},{"p":"h","d":"3rd door","t":65,"T":568},{"p":"h","d":"3rd door","t":70,"T":564},{"p":"h","d":"3rd door","t":75,"T":562},{"p":"h","d":"3rd door","t":80,"T":561},{"p":"h","d":"3rd door","t":85,"T":562},{"p":"h","d":"3rd door","t":90,"T":564},{"p":"h","d":"3rd door","t":95,"T":545},{"p":"h","d":"3rd door","t":100,"T":524},
{"p":"h","d":"4th door","t":0,"T":290},{"p":"h","d":"4th door","t":3,"T":420},{"p":"h","d":"4th door","t":5,"T":540},{"p":"h","d":"4th door","t":6,"T":610},{"p":"h","d":"4th door","t":7,"T":605},{"p":"h","d":"4th door","t":8,"T":560},{"p":"h","d":"4th door","t":9,"T":545},{"p":"h","d":"4th door","t":10,"T":603},{"p":"h","d":"4th door","t":15,"T":610},{"p":"h","d":"4th door","t":20,"T":617},{"p":"h","d":"4th door","t":25,"T":635},{"p":"h","d":"4th door","t":30,"T":655},{"p":"h","d":"4th door","t":35,"T":648},{"p":"h","d":"4th door","t":40,"T":641},{"p":"h","d":"4th door","t":45,"T":632},{"p":"h","d":"4th door","t":50,"T":620},{"p":"h","d":"4th door","t":55,"T":600},{"p":"h","d":"4th door","t":60,"T":588},{"p":"h","d":"4th door","t":65,"T":575},{"p":"h","d":"4th door","t":70,"T":561},{"p":"h","d":"4th door","t":75,"T":560},{"p":"h","d":"4th door","t":80,"T":561},{"p":"h","d":"4th door","t":85,"T":565},{"p":"h","d":"4th door","t":90,"T":570},{"p":"h","d":"4th door","t":95,"T":580},{"p":"h","d":"4th door","t":100,"T":596}
]},
"columns":2,
"spacing":{"row":57,"column":51},
"bounds":"flush",
"concat":[
{"width":243,"height":160,"title":{"text":"(a)\u00a0\u00a0OSUE➔OSUE"},"transform":[{"filter":"datum.p === 'a'"}],
"encoding":{"x":{"field":"t","type":"quantitative","scale":{"domain":[0,100],"nice":false},"axis":{"values":[0,20,40,60,80,100],"title":"Time(s)"}},"y":{"field":"T","type":"quantitative","scale":{"domain":[0,300,900],"range":[160,142.8,0],"nice":false,"zero":false},"axis":{"values":[0,300,400,500,600,700,800,900],"title":"Temperature(K)"}}},
"layer":[
{"transform":[{"filter":"datum.d === '1st door' || datum.d === '3rd door'"}],"mark":{"type":"line","interpolate":"monotone","stroke":"#333","strokeWidth":1.1,"strokeDash":[2.5,1.5]},"encoding":{"detail":{"field":"d"}}},
{"transform":[{"filter":"datum.d === '2nd door' || datum.d === '4th door'"}],"mark":{"type":"line","interpolate":"monotone","stroke":"#333","strokeWidth":1.1},"encoding":{"detail":{"field":"d"}}},
{"transform":[{"filter":"datum.t % 10 === 0 && (datum.d === '1st door' || datum.d === '3rd door')"}],"mark":{"type":"point","filled":true,"fill":"#111","strokeWidth":0.7,"size":22,"opacity":1},"encoding":{"shape":{"field":"d","type":"nominal","scale":{"range":["square","circle","triangle-up","triangle-down"]},"legend":null},"stroke":{"field":"d","type":"nominal","scale":{"domain":["1st door","2nd door","3rd door","4th door"],"range":["#222","#222","#222","#222"]},"legend":{"title":null,"encoding":{"legend":{"stroke":{"value":"#777"},"strokeWidth":{"value":0.8},"fill":{"value":"#fff"}},"symbols":{"shape":{"value":{"expr":"datum.value === '1st door' ? 'M-1.5,0H-0.9M-0.55,0H0.05M0.35,0H0.69M1.81,0H2.2M2.5,0H3.1M3.45,0H4.05M0.69,-0.56H1.81V0.56H0.69Z' : datum.value === '2nd door' ? 'M-1.5,0H0.65M1.85,0H4.25M0.65,0A0.6,0.6 0 1,0 1.85,0A0.6,0.6 0 1,0 0.65,0Z' : datum.value === '3rd door' ? 'M-1.5,0H-0.9M-0.55,0H0.05M0.35,0H0.6M1.9,0H2.2M2.5,0H3.1M3.45,0H4.05M1.25,-0.7L1.93,0.5L0.57,0.5Z' : 'M-1.5,0H0.6M1.9,0H4.25M0.57,-0.5L1.93,-0.5L1.25,0.7Z'"}},"fill":{"value":{"expr":"datum.value === '2nd door' || datum.value === '4th door' ? '#fff' : '#111'"}},"strokeWidth":{"value":0.8},"size":{"value":64},"opacity":{"value":1}}}}}}},
{"transform":[{"filter":"datum.t % 10 === 0 && (datum.d === '2nd door' || datum.d === '4th door')"}],"mark":{"type":"point","filled":true,"fill":"#fff","stroke":"#222","strokeWidth":0.7,"size":22,"opacity":1},"encoding":{"shape":{"field":"d","type":"nominal","legend":null}}},
{"transform":[{"filter":"datum.t === 100 && datum.d === '1st door'"}],"mark":{"type":"text","text":"≈","fontSize":11,"color":"#555","font":"DejaVu Sans"},"encoding":{"x":{"datum":100},"y":{"datum":293}}}
]},
{"width":243,"height":160,"title":{"text":"(b)\u00a0\u00a0OSUE➔USOE"},"transform":[{"filter":"datum.p === 'b'"}],
"encoding":{"x":{"field":"t","type":"quantitative","scale":{"domain":[0,100],"nice":false},"axis":{"values":[0,20,40,60,80,100],"title":"Time(s)"}},"y":{"field":"T","type":"quantitative","scale":{"domain":[0,300,900],"range":[160,142.8,0],"nice":false,"zero":false},"axis":{"values":[0,300,400,500,600,700,800,900],"title":"Temperature(K)"}}},
"layer":[
{"transform":[{"filter":"datum.d === '1st door' || datum.d === '3rd door'"}],"mark":{"type":"line","interpolate":"monotone","stroke":"#333","strokeWidth":1.1,"strokeDash":[2.5,1.5]},"encoding":{"detail":{"field":"d"}}},
{"transform":[{"filter":"datum.d === '2nd door' || datum.d === '4th door'"}],"mark":{"type":"line","interpolate":"monotone","stroke":"#333","strokeWidth":1.1},"encoding":{"detail":{"field":"d"}}},
{"transform":[{"filter":"datum.t % 10 === 0 && (datum.d === '1st door' || datum.d === '3rd door')"}],"mark":{"type":"point","filled":true,"fill":"#111","strokeWidth":0.7,"size":22,"opacity":1},"encoding":{"shape":{"field":"d","type":"nominal","scale":{"range":["square","circle","triangle-up","triangle-down"]},"legend":null},"stroke":{"field":"d","type":"nominal","scale":{"domain":["1st door","2nd door","3rd door","4th door"],"range":["#222","#222","#222","#222"]},"legend":{"title":null,"encoding":{"legend":{"stroke":{"value":"#777"},"strokeWidth":{"value":0.8},"fill":{"value":"#fff"}},"symbols":{"shape":{"value":{"expr":"datum.value === '1st door' ? 'M-1.5,0H-0.9M-0.55,0H0.05M0.35,0H0.69M1.81,0H2.2M2.5,0H3.1M3.45,0H4.05M0.69,-0.56H1.81V0.56H0.69Z' : datum.value === '2nd door' ? 'M-1.5,0H0.65M1.85,0H4.25M0.65,0A0.6,0.6 0 1,0 1.85,0A0.6,0.6 0 1,0 0.65,0Z' : datum.value === '3rd door' ? 'M-1.5,0H-0.9M-0.55,0H0.05M0.35,0H0.6M1.9,0H2.2M2.5,0H3.1M3.45,0H4.05M1.25,-0.7L1.93,0.5L0.57,0.5Z' : 'M-1.5,0H0.6M1.9,0H4.25M0.57,-0.5L1.93,-0.5L1.25,0.7Z'"}},"fill":{"value":{"expr":"datum.value === '2nd door' || datum.value === '4th door' ? '#fff' : '#111'"}},"strokeWidth":{"value":0.8},"size":{"value":64},"opacity":{"value":1}}}}}}},
{"transform":[{"filter":"datum.t % 10 === 0 && (datum.d === '2nd door' || datum.d === '4th door')"}],"mark":{"type":"point","filled":true,"fill":"#fff","stroke":"#222","strokeWidth":0.7,"size":22,"opacity":1},"encoding":{"shape":{"field":"d","type":"nominal","legend":null}}},
{"transform":[{"filter":"datum.t === 100 && datum.d === '1st door'"}],"mark":{"type":"text","text":"≈","fontSize":11,"color":"#555","font":"DejaVu Sans"},"encoding":{"x":{"datum":100},"y":{"datum":293}}}
]},
{"width":243,"height":160,"title":{"text":"(c)\u00a0\u00a0OSUE➔TSOE"},"transform":[{"filter":"datum.p === 'c'"}],
"encoding":{"x":{"field":"t","type":"quantitative","scale":{"domain":[0,100],"nice":false},"axis":{"values":[0,20,40,60,80,100],"title":"Time(s)"}},"y":{"field":"T","type":"quantitative","scale":{"domain":[0,300,900],"range":[160,142.8,0],"nice":false,"zero":false},"axis":{"values":[0,300,400,500,600,700,800,900],"title":"Temperature(K)"}}},
"layer":[
{"transform":[{"filter":"datum.d === '1st door' || datum.d === '3rd door'"}],"mark":{"type":"line","interpolate":"monotone","stroke":"#333","strokeWidth":1.1,"strokeDash":[2.5,1.5]},"encoding":{"detail":{"field":"d"}}},
{"transform":[{"filter":"datum.d === '2nd door' || datum.d === '4th door'"}],"mark":{"type":"line","interpolate":"monotone","stroke":"#333","strokeWidth":1.1},"encoding":{"detail":{"field":"d"}}},
{"transform":[{"filter":"datum.t % 10 === 0 && (datum.d === '1st door' || datum.d === '3rd door')"}],"mark":{"type":"point","filled":true,"fill":"#111","strokeWidth":0.7,"size":22,"opacity":1},"encoding":{"shape":{"field":"d","type":"nominal","scale":{"range":["square","circle","triangle-up","triangle-down"]},"legend":null},"stroke":{"field":"d","type":"nominal","scale":{"domain":["1st door","2nd door","3rd door","4th door"],"range":["#222","#222","#222","#222"]},"legend":{"title":null,"encoding":{"legend":{"stroke":{"value":"#777"},"strokeWidth":{"value":0.8},"fill":{"value":"#fff"}},"symbols":{"shape":{"value":{"expr":"datum.value === '1st door' ? 'M-1.5,0H-0.9M-0.55,0H0.05M0.35,0H0.69M1.81,0H2.2M2.5,0H3.1M3.45,0H4.05M0.69,-0.56H1.81V0.56H0.69Z' : datum.value === '2nd door' ? 'M-1.5,0H0.65M1.85,0H4.25M0.65,0A0.6,0.6 0 1,0 1.85,0A0.6,0.6 0 1,0 0.65,0Z' : datum.value === '3rd door' ? 'M-1.5,0H-0.9M-0.55,0H0.05M0.35,0H0.6M1.9,0H2.2M2.5,0H3.1M3.45,0H4.05M1.25,-0.7L1.93,0.5L0.57,0.5Z' : 'M-1.5,0H0.6M1.9,0H4.25M0.57,-0.5L1.93,-0.5L1.25,0.7Z'"}},"fill":{"value":{"expr":"datum.value === '2nd door' || datum.value === '4th door' ? '#fff' : '#111'"}},"strokeWidth":{"value":0.8},"size":{"value":64},"opacity":{"value":1}}}}}}},
{"transform":[{"filter":"datum.t % 10 === 0 && (datum.d === '2nd door' || datum.d === '4th door')"}],"mark":{"type":"point","filled":true,"fill":"#fff","stroke":"#222","strokeWidth":0.7,"size":22,"opacity":1},"encoding":{"shape":{"field":"d","type":"nominal","legend":null}}},
{"transform":[{"filter":"datum.t === 100 && datum.d === '1st door'"}],"mark":{"type":"text","text":"≈","fontSize":11,"color":"#555","font":"DejaVu Sans"},"encoding":{"x":{"datum":100},"y":{"datum":293}}}
]},
{"width":243,"height":160,"title":{"text":"(d)\u00a0\u00a0OSUE➔OSTE"},"transform":[{"filter":"datum.p === 'd'"}],
"encoding":{"x":{"field":"t","type":"quantitative","scale":{"domain":[0,100],"nice":false},"axis":{"values":[0,20,40,60,80,100],"title":"Time(s)"}},"y":{"field":"T","type":"quantitative","scale":{"domain":[0,300,900],"range":[160,142.8,0],"nice":false,"zero":false},"axis":{"values":[0,300,400,500,600,700,800,900],"title":"Temperature(K)"}}},
"layer":[
{"transform":[{"filter":"datum.d === '1st door' || datum.d === '3rd door'"}],"mark":{"type":"line","interpolate":"monotone","stroke":"#333","strokeWidth":1.1,"strokeDash":[2.5,1.5]},"encoding":{"detail":{"field":"d"}}},
{"transform":[{"filter":"datum.d === '2nd door' || datum.d === '4th door'"}],"mark":{"type":"line","interpolate":"monotone","stroke":"#333","strokeWidth":1.1},"encoding":{"detail":{"field":"d"}}},
{"transform":[{"filter":"datum.t % 10 === 0 && (datum.d === '1st door' || datum.d === '3rd door')"}],"mark":{"type":"point","filled":true,"fill":"#111","strokeWidth":0.7,"size":22,"opacity":1},"encoding":{"shape":{"field":"d","type":"nominal","scale":{"range":["square","circle","triangle-up","triangle-down"]},"legend":null},"stroke":{"field":"d","type":"nominal","scale":{"domain":["1st door","2nd door","3rd door","4th door"],"range":["#222","#222","#222","#222"]},"legend":{"title":null,"encoding":{"legend":{"stroke":{"value":"#777"},"strokeWidth":{"value":0.8},"fill":{"value":"#fff"}},"symbols":{"shape":{"value":{"expr":"datum.value === '1st door' ? 'M-1.5,0H-0.9M-0.55,0H0.05M0.35,0H0.69M1.81,0H2.2M2.5,0H3.1M3.45,0H4.05M0.69,-0.56H1.81V0.56H0.69Z' : datum.value === '2nd door' ? 'M-1.5,0H0.65M1.85,0H4.25M0.65,0A0.6,0.6 0 1,0 1.85,0A0.6,0.6 0 1,0 0.65,0Z' : datum.value === '3rd door' ? 'M-1.5,0H-0.9M-0.55,0H0.05M0.35,0H0.6M1.9,0H2.2M2.5,0H3.1M3.45,0H4.05M1.25,-0.7L1.93,0.5L0.57,0.5Z' : 'M-1.5,0H0.6M1.9,0H4.25M0.57,-0.5L1.93,-0.5L1.25,0.7Z'"}},"fill":{"value":{"expr":"datum.value === '2nd door' || datum.value === '4th door' ? '#fff' : '#111'"}},"strokeWidth":{"value":0.8},"size":{"value":64},"opacity":{"value":1}}}}}}},
{"transform":[{"filter":"datum.t % 10 === 0 && (datum.d === '2nd door' || datum.d === '4th door')"}],"mark":{"type":"point","filled":true,"fill":"#fff","stroke":"#222","strokeWidth":0.7,"size":22,"opacity":1},"encoding":{"shape":{"field":"d","type":"nominal","legend":null}}},
{"transform":[{"filter":"datum.t === 100 && datum.d === '1st door'"}],"mark":{"type":"text","text":"≈","fontSize":11,"color":"#555","font":"DejaVu Sans"},"encoding":{"x":{"datum":100},"y":{"datum":293}}}
]},
{"width":243,"height":160,"title":{"text":"(e)\u00a0\u00a0OSUE➔CWSE"},"transform":[{"filter":"datum.p === 'e'"}],
"encoding":{"x":{"field":"t","type":"quantitative","scale":{"domain":[0,100],"nice":false},"axis":{"values":[0,20,40,60,80,100],"title":"Time(s)"}},"y":{"field":"T","type":"quantitative","scale":{"domain":[0,300,900],"range":[160,142.8,0],"nice":false,"zero":false},"axis":{"values":[0,300,400,500,600,700,800,900],"title":"Temperature(K)"}}},
"layer":[
{"transform":[{"filter":"datum.d === '1st door' || datum.d === '3rd door'"}],"mark":{"type":"line","interpolate":"monotone","stroke":"#333","strokeWidth":1.1,"strokeDash":[2.5,1.5]},"encoding":{"detail":{"field":"d"}}},
{"transform":[{"filter":"datum.d === '2nd door' || datum.d === '4th door'"}],"mark":{"type":"line","interpolate":"monotone","stroke":"#333","strokeWidth":1.1},"encoding":{"detail":{"field":"d"}}},
{"transform":[{"filter":"datum.t % 10 === 0 && (datum.d === '1st door' || datum.d === '3rd door')"}],"mark":{"type":"point","filled":true,"fill":"#111","strokeWidth":0.7,"size":22,"opacity":1},"encoding":{"shape":{"field":"d","type":"nominal","scale":{"range":["square","circle","triangle-up","triangle-down"]},"legend":null},"stroke":{"field":"d","type":"nominal","scale":{"domain":["1st door","2nd door","3rd door","4th door"],"range":["#222","#222","#222","#222"]},"legend":{"title":null,"encoding":{"legend":{"stroke":{"value":"#777"},"strokeWidth":{"value":0.8},"fill":{"value":"#fff"}},"symbols":{"shape":{"value":{"expr":"datum.value === '1st door' ? 'M-1.5,0H-0.9M-0.55,0H0.05M0.35,0H0.69M1.81,0H2.2M2.5,0H3.1M3.45,0H4.05M0.69,-0.56H1.81V0.56H0.69Z' : datum.value === '2nd door' ? 'M-1.5,0H0.65M1.85,0H4.25M0.65,0A0.6,0.6 0 1,0 1.85,0A0.6,0.6 0 1,0 0.65,0Z' : datum.value === '3rd door' ? 'M-1.5,0H-0.9M-0.55,0H0.05M0.35,0H0.6M1.9,0H2.2M2.5,0H3.1M3.45,0H4.05M1.25,-0.7L1.93,0.5L0.57,0.5Z' : 'M-1.5,0H0.6M1.9,0H4.25M0.57,-0.5L1.93,-0.5L1.25,0.7Z'"}},"fill":{"value":{"expr":"datum.value === '2nd door' || datum.value === '4th door' ? '#fff' : '#111'"}},"strokeWidth":{"value":0.8},"size":{"value":64},"opacity":{"value":1}}}}}}},
{"transform":[{"filter":"datum.t % 10 === 0 && (datum.d === '2nd door' || datum.d === '4th door')"}],"mark":{"type":"point","filled":true,"fill":"#fff","stroke":"#222","strokeWidth":0.7,"size":22,"opacity":1},"encoding":{"shape":{"field":"d","type":"nominal","legend":null}}},
{"transform":[{"filter":"datum.t === 100 && datum.d === '1st door'"}],"mark":{"type":"text","text":"≈","fontSize":11,"color":"#555","font":"DejaVu Sans"},"encoding":{"x":{"datum":100},"y":{"datum":293}}}
]},
{"width":243,"height":160,"title":{"text":"(f)\u00a0\u00a0OSUE➔CCSE"},"transform":[{"filter":"datum.p === 'f'"}],
"encoding":{"x":{"field":"t","type":"quantitative","scale":{"domain":[0,100],"nice":false},"axis":{"values":[0,20,40,60,80,100],"title":"Time(s)"}},"y":{"field":"T","type":"quantitative","scale":{"domain":[0,300,900],"range":[160,142.8,0],"nice":false,"zero":false},"axis":{"values":[0,300,400,500,600,700,800,900],"title":"Temperature(K)"}}},
"layer":[
{"transform":[{"filter":"datum.d === '1st door' || datum.d === '3rd door'"}],"mark":{"type":"line","interpolate":"monotone","stroke":"#333","strokeWidth":1.1,"strokeDash":[2.5,1.5]},"encoding":{"detail":{"field":"d"}}},
{"transform":[{"filter":"datum.d === '2nd door' || datum.d === '4th door'"}],"mark":{"type":"line","interpolate":"monotone","stroke":"#333","strokeWidth":1.1},"encoding":{"detail":{"field":"d"}}},
{"transform":[{"filter":"datum.t % 10 === 0 && (datum.d === '1st door' || datum.d === '3rd door')"}],"mark":{"type":"point","filled":true,"fill":"#111","strokeWidth":0.7,"size":22,"opacity":1},"encoding":{"shape":{"field":"d","type":"nominal","scale":{"range":["square","circle","triangle-up","triangle-down"]},"legend":null},"stroke":{"field":"d","type":"nominal","scale":{"domain":["1st door","2nd door","3rd door","4th door"],"range":["#222","#222","#222","#222"]},"legend":{"title":null,"encoding":{"legend":{"stroke":{"value":"#777"},"strokeWidth":{"value":0.8},"fill":{"value":"#fff"}},"symbols":{"shape":{"value":{"expr":"datum.value === '1st door' ? 'M-1.5,0H-0.9M-0.55,0H0.05M0.35,0H0.69M1.81,0H2.2M2.5,0H3.1M3.45,0H4.05M0.69,-0.56H1.81V0.56H0.69Z' : datum.value === '2nd door' ? 'M-1.5,0H0.65M1.85,0H4.25M0.65,0A0.6,0.6 0 1,0 1.85,0A0.6,0.6 0 1,0 0.65,0Z' : datum.value === '3rd door' ? 'M-1.5,0H-0.9M-0.55,0H0.05M0.35,0H0.6M1.9,0H2.2M2.5,0H3.1M3.45,0H4.05M1.25,-0.7L1.93,0.5L0.57,0.5Z' : 'M-1.5,0H0.6M1.9,0H4.25M0.57,-0.5L1.93,-0.5L1.25,0.7Z'"}},"fill":{"value":{"expr":"datum.value === '2nd door' || datum.value === '4th door' ? '#fff' : '#111'"}},"strokeWidth":{"value":0.8},"size":{"value":64},"opacity":{"value":1}}}}}}},
{"transform":[{"filter":"datum.t % 10 === 0 && (datum.d === '2nd door' || datum.d === '4th door')"}],"mark":{"type":"point","filled":true,"fill":"#fff","stroke":"#222","strokeWidth":0.7,"size":22,"opacity":1},"encoding":{"shape":{"field":"d","type":"nominal","legend":null}}},
{"transform":[{"filter":"datum.t === 100 && datum.d === '1st door'"}],"mark":{"type":"text","text":"≈","fontSize":11,"color":"#555","font":"DejaVu Sans"},"encoding":{"x":{"datum":100},"y":{"datum":293}}}
]},
{"width":243,"height":160,"title":{"text":"(g)\u00a0OSUE➔All\u00a0\u00a0EXHAUST"},"transform":[{"filter":"datum.p === 'g'"}],
"encoding":{"x":{"field":"t","type":"quantitative","scale":{"domain":[0,100],"nice":false},"axis":{"values":[0,20,40,60,80,100],"title":"Time(s)"}},"y":{"field":"T","type":"quantitative","scale":{"domain":[0,300,900],"range":[160,142.8,0],"nice":false,"zero":false},"axis":{"values":[0,300,400,500,600,700,800,900],"title":"Temperature(K)"}}},
"layer":[
{"transform":[{"filter":"datum.d === '1st door' || datum.d === '3rd door'"}],"mark":{"type":"line","interpolate":"monotone","stroke":"#333","strokeWidth":1.1,"strokeDash":[2.5,1.5]},"encoding":{"detail":{"field":"d"}}},
{"transform":[{"filter":"datum.d === '2nd door' || datum.d === '4th door'"}],"mark":{"type":"line","interpolate":"monotone","stroke":"#333","strokeWidth":1.1},"encoding":{"detail":{"field":"d"}}},
{"transform":[{"filter":"datum.t % 10 === 0 && (datum.d === '1st door' || datum.d === '3rd door')"}],"mark":{"type":"point","filled":true,"fill":"#111","strokeWidth":0.7,"size":22,"opacity":1},"encoding":{"shape":{"field":"d","type":"nominal","scale":{"range":["square","circle","triangle-up","triangle-down"]},"legend":null},"stroke":{"field":"d","type":"nominal","scale":{"domain":["1st door","2nd door","3rd door","4th door"],"range":["#222","#222","#222","#222"]},"legend":{"title":null,"encoding":{"legend":{"stroke":{"value":"#777"},"strokeWidth":{"value":0.8},"fill":{"value":"#fff"}},"symbols":{"shape":{"value":{"expr":"datum.value === '1st door' ? 'M-1.5,0H-0.9M-0.55,0H0.05M0.35,0H0.69M1.81,0H2.2M2.5,0H3.1M3.45,0H4.05M0.69,-0.56H1.81V0.56H0.69Z' : datum.value === '2nd door' ? 'M-1.5,0H0.65M1.85,0H4.25M0.65,0A0.6,0.6 0 1,0 1.85,0A0.6,0.6 0 1,0 0.65,0Z' : datum.value === '3rd door' ? 'M-1.5,0H-0.9M-0.55,0H0.05M0.35,0H0.6M1.9,0H2.2M2.5,0H3.1M3.45,0H4.05M1.25,-0.7L1.93,0.5L0.57,0.5Z' : 'M-1.5,0H0.6M1.9,0H4.25M0.57,-0.5L1.93,-0.5L1.25,0.7Z'"}},"fill":{"value":{"expr":"datum.value === '2nd door' || datum.value === '4th door' ? '#fff' : '#111'"}},"strokeWidth":{"value":0.8},"size":{"value":64},"opacity":{"value":1}}}}}}},
{"transform":[{"filter":"datum.t % 10 === 0 && (datum.d === '2nd door' || datum.d === '4th door')"}],"mark":{"type":"point","filled":true,"fill":"#fff","stroke":"#222","strokeWidth":0.7,"size":22,"opacity":1},"encoding":{"shape":{"field":"d","type":"nominal","legend":null}}},
{"transform":[{"filter":"datum.t === 100 && datum.d === '1st door'"}],"mark":{"type":"text","text":"≈","fontSize":11,"color":"#555","font":"DejaVu Sans"},"encoding":{"x":{"datum":100},"y":{"datum":293}}}
]},
{"width":243,"height":160,"title":{"text":"(h)\u00a0OSUE\u00a0\u00a0➔All\u00a0\u00a0SUPPLY"},"transform":[{"filter":"datum.p === 'h'"}],
"encoding":{"x":{"field":"t","type":"quantitative","scale":{"domain":[0,100],"nice":false},"axis":{"values":[0,20,40,60,80,100],"title":"Time(s)"}},"y":{"field":"T","type":"quantitative","scale":{"domain":[0,300,900],"range":[160,142.8,0],"nice":false,"zero":false},"axis":{"values":[0,300,400,500,600,700,800,900],"title":"Temperature(K)"}}},
"layer":[
{"transform":[{"filter":"datum.d === '1st door' || datum.d === '3rd door'"}],"mark":{"type":"line","interpolate":"monotone","stroke":"#333","strokeWidth":1.1,"strokeDash":[2.5,1.5]},"encoding":{"detail":{"field":"d"}}},
{"transform":[{"filter":"datum.d === '2nd door' || datum.d === '4th door'"}],"mark":{"type":"line","interpolate":"monotone","stroke":"#333","strokeWidth":1.1},"encoding":{"detail":{"field":"d"}}},
{"transform":[{"filter":"datum.t % 10 === 0 && (datum.d === '1st door' || datum.d === '3rd door')"}],"mark":{"type":"point","filled":true,"fill":"#111","strokeWidth":0.7,"size":22,"opacity":1},"encoding":{"shape":{"field":"d","type":"nominal","scale":{"range":["square","circle","triangle-up","triangle-down"]},"legend":null},"stroke":{"field":"d","type":"nominal","scale":{"domain":["1st door","2nd door","3rd door","4th door"],"range":["#222","#222","#222","#222"]},"legend":{"title":null,"encoding":{"legend":{"stroke":{"value":"#777"},"strokeWidth":{"value":0.8},"fill":{"value":"#fff"}},"symbols":{"shape":{"value":{"expr":"datum.value === '1st door' ? 'M-1.5,0H-0.9M-0.55,0H0.05M0.35,0H0.69M1.81,0H2.2M2.5,0H3.1M3.45,0H4.05M0.69,-0.56H1.81V0.56H0.69Z' : datum.value === '2nd door' ? 'M-1.5,0H0.65M1.85,0H4.25M0.65,0A0.6,0.6 0 1,0 1.85,0A0.6,0.6 0 1,0 0.65,0Z' : datum.value === '3rd door' ? 'M-1.5,0H-0.9M-0.55,0H0.05M0.35,0H0.6M1.9,0H2.2M2.5,0H3.1M3.45,0H4.05M1.25,-0.7L1.93,0.5L0.57,0.5Z' : 'M-1.5,0H0.6M1.9,0H4.25M0.57,-0.5L1.93,-0.5L1.25,0.7Z'"}},"fill":{"value":{"expr":"datum.value === '2nd door' || datum.value === '4th door' ? '#fff' : '#111'"}},"strokeWidth":{"value":0.8},"size":{"value":64},"opacity":{"value":1}}}}}}},
{"transform":[{"filter":"datum.t % 10 === 0 && (datum.d === '2nd door' || datum.d === '4th door')"}],"mark":{"type":"point","filled":true,"fill":"#fff","stroke":"#222","strokeWidth":0.7,"size":22,"opacity":1},"encoding":{"shape":{"field":"d","type":"nominal","legend":null}}},
{"transform":[{"filter":"datum.t === 100 && datum.d === '1st door'"}],"mark":{"type":"text","text":"≈","fontSize":11,"color":"#555","font":"DejaVu Sans"},"encoding":{"x":{"datum":100},"y":{"datum":293}}}
]}
],
"resolve":{"scale":{"shape":"independent","stroke":"independent"},"legend":{"stroke":"independent"}},
"config":{
"view":{"stroke":"#444","strokeWidth":0.8},
"axis":{"grid":true,"gridColor":"#d6d6d6","gridWidth":0.6,"domain":false,"ticks":false,"labelOverlap":false,"labelFlush":false,"labelFont":"Liberation Sans","labelFontSize":6.5,"labelColor":"#555","titleFont":"Liberation Sans","titleFontWeight":"normal","titleColor":"#333"},
"axisX":{"labelPadding":3,"titlePadding":3,"titleFontSize":7.5},
"axisY":{"labelPadding":4,"titlePadding":5,"titleFontSize":7},
"legend":{"orient":"top-left","offset":1,"padding":3,"strokeColor":"#777","fillColor":"white","labelFont":"Liberation Sans","labelFontSize":8,"labelColor":"#333","rowPadding":0.5,"symbolSize":64,"labelOffset":14,"cornerRadius":0},
"title":{"orient":"bottom","anchor":"middle","frame":"group","font":"Liberation Serif","fontSize":24,"fontWeight":"normal","color":"#000","offset":7,"dx":-12}
}
}
